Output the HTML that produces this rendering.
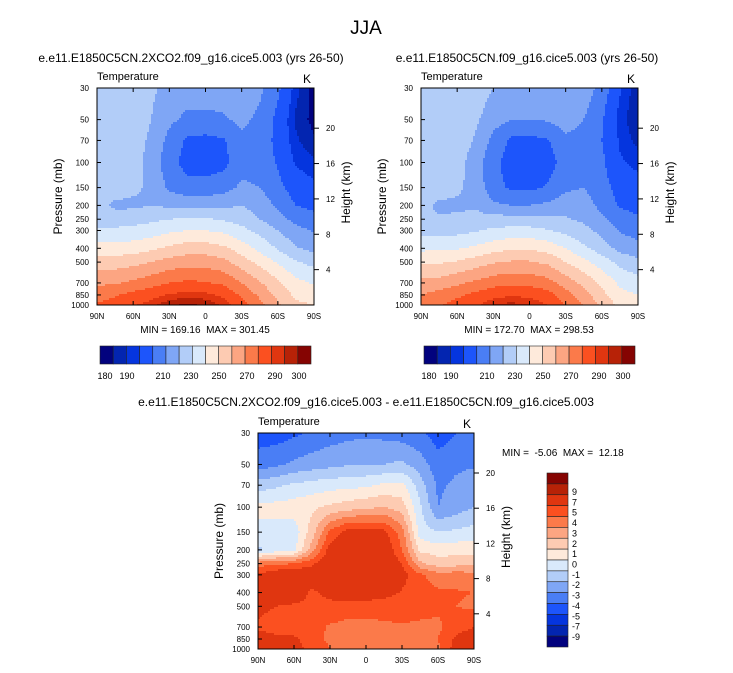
<!DOCTYPE html>
<html><head><meta charset="utf-8">
<style>
body{margin:0;background:#fff;font-family:"Liberation Sans",sans-serif;}
#root{position:relative;width:733px;height:673px;overflow:hidden;background:#fff;}
text{white-space:pre;}
</style></head>
<body>
<div id="root">
<svg id="svg" width="733" height="673" style="position:absolute;left:0;top:0"></svg>
</div>
<script>
const lats = [90,75,60,45,30,15,0,-15,-30,-45,-60,-75,-90];
const pres = [30,50,70,100,150,200,250,300,400,500,700,850,1000];
const xTickLabels = ["90N","60N","30N","0","30S","60S","90S"];
const xTickVals = [90,60,30,0,-30,-60,-90];
const yTickVals = [30,50,70,100,150,200,250,300,400,500,700,850,1000];
const hTickVals = [4,8,12,16,20];
const tempLevels = [180,185,190,200,210,220,230,240,250,260,270,280,290,295,300];
const tempLabels = ["180","190","210","230","250","270","290","300"];
const diffLevels = [-9,-7,-5,-4,-3,-2,-1,0,1,2,3,4,5,7,9];
const diffLabels = ["9","7","5","4","3","2","1","0","-1","-2","-3","-4","-5","-7","-9"];
const palette = ["#02027e","#0325b0","#0535de","#1d55fb","#4a7ef5","#7fa6f5","#b2cdf8","#d9e9fb","#feeadb","#fdcbb2","#fca582","#fb7a4a","#fb5020","#e03610","#b72207","#850402"];
const tempA = [
[225,225,225,222,216,214,214,214,215,212,202,187,177],
[226,226,225,220,212,208,208,209,212,208,197,184,178],
[226,226,225,218,207,198,197,199,208,206,197,186,181],
[226,226,224,216,204,196,195,197,206,206,199,189,186],
[225,225,222,218,208,204,204,206,212,210,203,195,192],
[223,218,218,220,218,217,217,218,220,216,208,200,197],
[225,225,226,228,230,231,231,229,226,220,214,207,204],
[231,232,233,235,238,240,240,238,233,227,220,213,209],
[244,244,245,248,252,255,255,252,245,237,229,221,217],
[254,255,257,260,264,266,266,263,255,247,239,231,227],
[268,269,272,276,280,282,281,278,270,261,252,243,239],
[276,279,283,287,291,293,292,288,278,268,257,248,246],
[281,284,289,293,299,301,299,294,284,273,262,252,250]];
const tempB = [
[229,229,229,226,220,217,217,217,218,216,206,191,181],
[229,229,228,222,214,210,210,211,214,210,201,187,181],
[227,227,226,219,207,198,197,199,208,207,200,189,183],
[226,226,224,215,203,195,193,195,205,207,202,191,188],
[225,225,222,216,204,198,198,201,208,210,204,196,193],
[223,218,218,219,212,210,210,212,216,215,207,199,196],
[221,221,222,223,224,224,224,222,221,218,212,205,202],
[226,226,227,229,232,233,233,231,227,223,217,209,206],
[238,238,239,242,246,249,249,246,240,232,225,217,213],
[248,249,251,255,259,261,261,258,250,243,235,227,223],
[263,264,268,272,276,278,277,274,266,257,248,238,234],
[270,274,278,283,287,289,288,284,274,264,253,243,240],
[275,279,284,288,295,297,295,290,280,269,258,247,245]];
const diffC = [
[-4.5,-4.5,-4.2,-3.8,-3.5,-3.3,-3.2,-3.3,-3.5,-3.8,-4.5,-4,-3.8],
[-3.5,-3.2,-2.8,-2.5,-2.3,-2.1,-2.0,-2.0,-1.8,-2.5,-3.6,-3.2,-3.1],
[-1.5,-1.2,-0.8,-0.6,-0.4,-0.3,-0.2,0.2,0.3,-1.5,-3.2,-2.8,-2.5],
[0.3,0.4,0.5,0.8,1.2,1.5,1.8,2.0,1.5,-0.8,-3.0,-2.5,-2.0],
[-0.3,-0.5,-0.6,1.5,4.2,5.5,5.5,5.3,3.5,-0.5,-1.0,-0.8,-0.6],
[-1.2,-0.6,-0.3,2.5,5.5,6.3,6.3,6.0,4,0.8,0.5,0.6,0.7],
[3.5,3.8,4,4.8,6.0,6.5,6.5,6.3,5,2.2,1.5,1.6,1.7],
[5.2,5.8,6.3,5.6,6.5,6.6,6.6,6.4,5.4,4.2,3.4,3.5,3.4],
[5.8,6.2,5.8,4.8,5.4,6.0,5.8,5.4,4.9,4.6,4.2,4.1,4.0],
[5.3,5.0,4.8,4.7,4.6,4.5,4.4,4.5,4.5,4.4,4.2,4.0,3.8],
[4.8,4.5,4.4,4.3,3.9,3.7,3.7,3.8,3.9,3.8,3.8,4.6,5],
[5.6,5.3,5.2,4.4,3.8,3.6,3.5,3.6,3.8,3.8,4.0,5.2,5.6],
[5.8,5.4,5.5,4.6,4.0,3.8,3.7,3.7,3.8,3.8,3.8,5.5,5.5]];

const NS="http://www.w3.org/2000/svg";
const svg=document.getElementById('svg');
function mk(tag,attrs,parent){const e=document.createElementNS(NS,tag);for(const k in attrs)e.setAttribute(k,attrs[k]);(parent||svg).appendChild(e);return e;}
function txt(x,y,s,size,anchor,parent,rot){const e=mk('text',{x:x,y:y,'font-size':size,'text-anchor':anchor||'middle','font-family':'Liberation Sans, sans-serif',fill:'#000'},parent);if(rot)e.setAttribute('transform','rotate(-90 '+x+' '+y+')');e.textContent=s;return e;}
function cls(v,levels){let i=0;while(i<levels.length&&v>=levels[i])i++;return i;}
const lp0=Math.log(30),lp1=Math.log(1000);
function interp(grid,lat,p){
  let j=0;while(j<lats.length-2&&lat<lats[j+1])j++;
  const tx=(lats[j]-lat)/(lats[j]-lats[j+1]);
  const lp=Math.log(p);let i=0;while(i<pres.length-2&&lp>Math.log(pres[i+1]))i++;
  const ty=(lp-Math.log(pres[i]))/(Math.log(pres[i+1])-Math.log(pres[i]));
  const a=grid[i][j]*(1-tx)+grid[i][j+1]*tx, b=grid[i+1][j]*(1-tx)+grid[i+1][j+1]*tx;
  return a*(1-ty)+b*ty;
}
function panel(name,L,T,W,H,grid,levels){
  const g=mk('g',{});
  
  
  const xs=lat=>L+(90-lat)/180*W;
  const ys=p=>T+(Math.log(p)-lp0)/(lp1-lp0)*H;
  const cell=2;
  for(let y=0;y<H;y+=cell){
    const p=Math.exp(lp0+(y+cell/2)/H*(lp1-lp0));
    let x=0;
    while(x<W){
      const c=cls(interp(grid,90-(x+cell/2)/W*180,p),levels);
      let x2=x+cell;
      while(x2<W&&cls(interp(grid,90-(x2+cell/2)/W*180,p),levels)===c)x2+=cell;
      const r=mk('rect',{x:L+x,y:T+y,width:Math.min(x2,W)-x+0.5,height:Math.min(cell,H-y)+0.5,fill:palette[c]},g);
      
      
      x=x2;
    }
  }
  mk('rect',{x:L,y:T,width:W,height:H,fill:'none',stroke:'#000','stroke-width':1},g);
  xTickVals.forEach((v,k)=>{const x=xs(v);mk('line',{x1:x,x2:x,y1:T+H,y2:T+H-4,stroke:'#000'},g);mk('line',{x1:x,x2:x,y1:T,y2:T+4,stroke:'#000'},g);
    const t=txt(x,T+H+14,xTickLabels[k],8,'middle',g);});
  yTickVals.forEach(v=>{const y=ys(v);mk('line',{x1:L,x2:L+4,y1:y,y2:y,stroke:'#000'},g);
    const t=txt(L-8,y+3,String(v),8,'end',g);});
  hTickVals.forEach(v=>{const y=ys(1000*Math.exp(-v/7));mk('line',{x1:L+W,x2:L+W+5,y1:y,y2:y,stroke:'#000'},g);
    const t=txt(L+W+12,y+3,String(v),8,'start',g);});
  let t=txt(L,T-8,'Temperature',11,'start',g);
  t=txt(L+W-3,T-5,'K',12,'end',g);
  t=txt(L-35,T+H/2,'Pressure (mb)',12,'middle',g,true);
  t=txt(L+W+36,T+H/2-4,'Height (km)',12,'middle',g,true);
}
let t=txt(366,34,'JJA',19,'middle');
t=txt(191,62,'e.e11.E1850C5CN.2XCO2.f09_g16.cice5.003 (yrs 26-50)',12);
t=txt(527,62,'e.e11.E1850C5CN.f09_g16.cice5.003 (yrs 26-50)',12);
t=txt(366,406,'e.e11.E1850C5CN.2XCO2.f09_g16.cice5.003 - e.e11.E1850C5CN.f09_g16.cice5.003',12);

panel('panel-a-contour',97,88,217,217,tempA,tempLevels);
panel('panel-b-contour',421,88,217,217,tempB,tempLevels);
panel('panel-c-contour',258,433,216,216,diffC,diffLevels);

t=txt(205,333,'MIN = 169.16  MAX = 301.45',10);
t=txt(529,333,'MIN = 172.70  MAX = 298.53',10);
t=txt(502,456,'MIN =  -5.06  MAX =  12.18',10,'start');

const tempLabelX=[105,127,163,191,219,247,275,299];
function hbar(name,L){
  const g=mk('g',{});
  
  
  const W=211,n=palette.length,bw=W/n;
  palette.forEach((c,k)=>{const r=mk('rect',{x:L+k*bw,y:346,width:bw,height:18,fill:c,stroke:'#222','stroke-width':0.6},g);
    });
  tempLabels.forEach((s,k)=>{const e=txt(L-100+tempLabelX[k],379,s,9,'middle',g);});
}
hbar('colorbar-a',100);hbar('colorbar-b',424);
(function(){
  const g=mk('g',{});
  
  
  const T=473,H=174,n=palette.length,bh=H/n;
  for(let k=0;k<n;k++){const r=mk('rect',{x:547,y:T+k*bh,width:21,height:bh,fill:palette[n-1-k],stroke:'#222','stroke-width':0.6},g);
    }
  diffLabels.forEach((s,k)=>{const e=txt(572,T+19+k*(145/14)+3,s,9,'start',g);});
})();
</script>
</body></html>
